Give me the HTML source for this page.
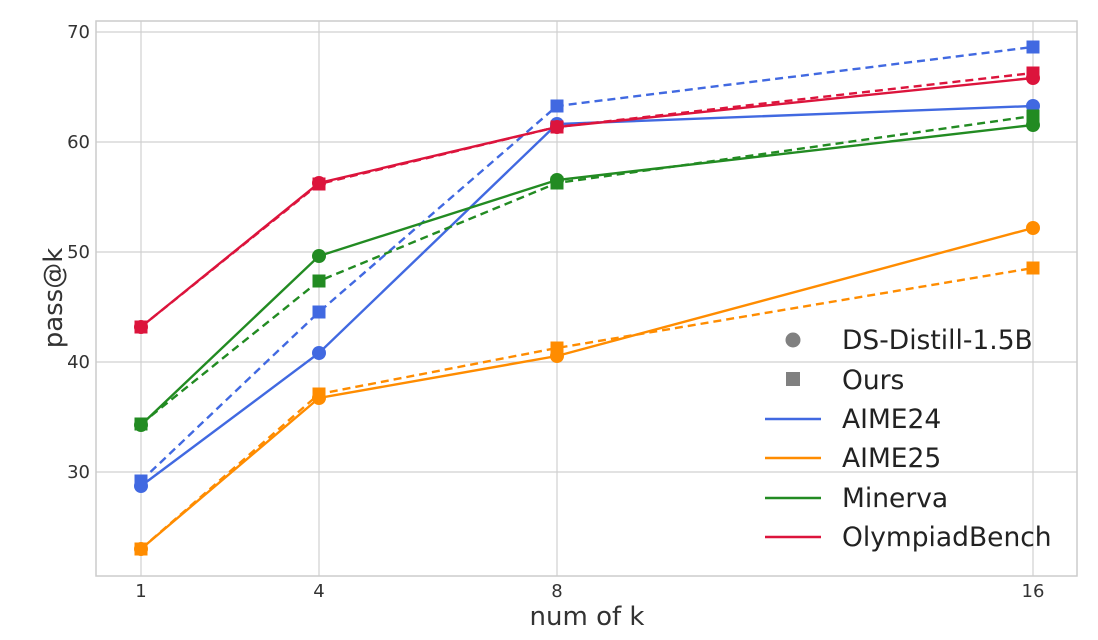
<!DOCTYPE html>
<html><head><meta charset="utf-8"><style>html,body{margin:0;padding:0;background:#fff}</style></head>
<body>
<svg width="1098" height="635" xmlns="http://www.w3.org/2000/svg" font-family="DejaVu Sans, Liberation Sans, sans-serif">
<rect width="1098" height="635" fill="#fff"/>
<g stroke="#d0d0d0" stroke-width="1.2">
<line x1="96" x2="1077" y1="32" y2="32"/><line x1="96" x2="1077" y1="142" y2="142"/><line x1="96" x2="1077" y1="252" y2="252"/><line x1="96" x2="1077" y1="362" y2="362"/><line x1="96" x2="1077" y1="472" y2="472"/>
<line y1="21" y2="576" x1="141" x2="141"/><line y1="21" y2="576" x1="319" x2="319"/><line y1="21" y2="576" x1="557" x2="557"/><line y1="21" y2="576" x1="1033" x2="1033"/>
</g>
<rect x="96" y="21" width="981" height="555" fill="none" stroke="#cccccc" stroke-width="1.5"/>
<g font-size="18" fill="#333" text-anchor="end">
<text x="90" y="38">70</text><text x="90" y="148">60</text><text x="90" y="258">50</text><text x="90" y="368">40</text><text x="90" y="478">30</text>
</g>
<g font-size="18" fill="#333" text-anchor="middle">
<text x="141" y="597">1</text><text x="319" y="597">4</text><text x="557" y="597">8</text><text x="1033" y="597">16</text>
</g>
<text x="587" y="625" font-size="26" fill="#333" text-anchor="middle">num of k</text>
<text x="62" y="298" font-size="26" fill="#333" text-anchor="middle" transform="rotate(-90 62 298)">pass@k</text>
<g fill="none" stroke-width="2.4">
<polyline stroke="#4169E1" points="141,486 319,353 557,124 1033,106"/>
<polyline stroke="#4169E1" stroke-dasharray="8,5" points="141,481 319,312 557,106 1033,47"/>
<polyline stroke="#FF8C00" points="141,549 319,398 557,356 1033,228"/>
<polyline stroke="#FF8C00" stroke-dasharray="8,5" points="141,549 319,394 557,348 1033,268"/>
<polyline stroke="#228B22" points="141,425 319,256 557,180 1033,125"/>
<polyline stroke="#228B22" stroke-dasharray="8,5" points="141,424 319,281 557,183 1033,116"/>
<polyline stroke="#DC143C" points="141,327 319,183 557,127 1033,78"/>
<polyline stroke="#DC143C" stroke-dasharray="8,5" points="141,327 319,184 557,127 1033,73"/>
</g>
<g fill="#4169E1"><circle cx="141" cy="486" r="7"/><circle cx="319" cy="353" r="7"/><circle cx="557" cy="124" r="7"/><circle cx="1033" cy="106" r="7"/>
<rect x="134.5" y="474.5" width="13" height="13"/><rect x="312.5" y="305.5" width="13" height="13"/><rect x="550.5" y="99.5" width="13" height="13"/><rect x="1026.5" y="40.5" width="13" height="13"/></g>
<g fill="#FF8C00"><circle cx="141" cy="549" r="7"/><circle cx="319" cy="398" r="7"/><circle cx="557" cy="356" r="7"/><circle cx="1033" cy="228" r="7"/>
<rect x="134.5" y="542.5" width="13" height="13"/><rect x="312.5" y="387.5" width="13" height="13"/><rect x="550.5" y="341.5" width="13" height="13"/><rect x="1026.5" y="261.5" width="13" height="13"/></g>
<g fill="#228B22"><circle cx="141" cy="425" r="7"/><circle cx="319" cy="256" r="7"/><circle cx="557" cy="180" r="7"/><circle cx="1033" cy="125" r="7"/>
<rect x="134.5" y="417.5" width="13" height="13"/><rect x="312.5" y="274.5" width="13" height="13"/><rect x="550.5" y="176.5" width="13" height="13"/><rect x="1026.5" y="109.5" width="13" height="13"/></g>
<g fill="#DC143C"><circle cx="141" cy="327" r="7"/><circle cx="319" cy="183" r="7"/><circle cx="557" cy="127" r="7"/><circle cx="1033" cy="78" r="7"/>
<rect x="134.5" y="320.5" width="13" height="13"/><rect x="312.5" y="177.5" width="13" height="13"/><rect x="550.5" y="120.5" width="13" height="13"/><rect x="1026.5" y="66.5" width="13" height="13"/></g>
<circle cx="793" cy="340" r="7.5" fill="#808080"/>
<rect x="786" y="372" width="14" height="14" fill="#808080"/>
<g stroke-width="2.4"><line x1="765" x2="821" y1="419" y2="419" stroke="#4169E1"/><line x1="765" x2="821" y1="458" y2="458" stroke="#FF8C00"/><line x1="765" x2="821" y1="498" y2="498" stroke="#228B22"/><line x1="765" x2="821" y1="537" y2="537" stroke="#DC143C"/></g>
<g font-size="26.5" fill="#222">
<text x="842" y="349">DS-Distill-1.5B</text><text x="842" y="389">Ours</text><text x="842" y="428">AIME24</text><text x="842" y="467">AIME25</text><text x="842" y="507">Minerva</text><text x="842" y="546">OlympiadBench</text>
</g>
</svg>
</body></html>
